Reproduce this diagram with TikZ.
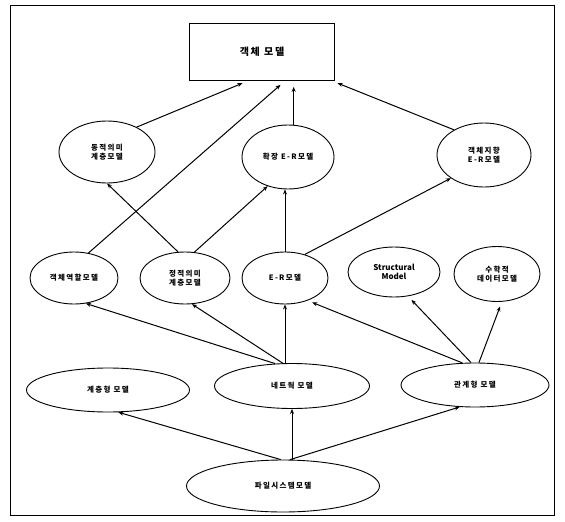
\documentclass[tikz,border=0pt]{standalone}
\usepackage{fontspec}
\setmainfont{Noto Sans CJK KR}
\newfontfamily\krfont[LetterSpace=18]{Noto Sans CJK KR}
\usepackage{tikz}
\usetikzlibrary{arrows.meta, shapes.geometric, calc}

\begin{document}
\begin{tikzpicture}[x=1pt, y=-1pt, font=\krfont\bfseries\fontsize{7.5}{9}\selectfont,
            model/.style={draw, ellipse, inner sep=0pt, align=center, line width=0.9pt},
            link/.style={-{Stealth[length=5pt, width=4pt]}, line width=1pt}]
  \useasboundingbox (0,0) rectangle (565,522);
  \draw[line width=0.8pt] (10,5) rectangle (554,515);

  % top: object model
  \node[draw, line width=0.8pt, minimum width=145pt, minimum height=57pt,
        font=\krfont\bfseries\fontsize{10}{12}\selectfont] (obj) at (262,52) {객체 모델};

  % upper ellipses
  \node[model, minimum width=96pt, minimum height=62pt] (dyn) at (107,152)
    {동적의미\\계층모델};
  \node[model, minimum width=92pt, minimum height=64pt] (ext) at (288,157)
    {확장 E-R모델};
  \node[model, minimum width=94pt, minimum height=64pt] (ooer) at (484,155)
    {객체지향\\E-R모델};

  % middle row
  \node[model, minimum width=88pt, minimum height=52pt] (orm) at (74,278)
    {객체역할모델};
  \node[model, minimum width=90pt, minimum height=52pt] (sta) at (185,278)
    {정적의미\\계층모델};
  \node[model, minimum width=86pt, minimum height=52pt] (er) at (285,278)
    {E-R모델};
  \node[model, minimum width=92pt, minimum height=50pt,
        font=\bfseries\fontsize{8}{9.5}\selectfont] (str) at (394,272)
    {Structural\\Model};
  \node[model, minimum width=86pt, minimum height=55pt] (math) at (497,274)
    {수학적\\데이터모델};

  % lower row
  \node[model, minimum width=163pt, minimum height=44pt] (hier) at (108,390)
    {계층형 모델};
  \node[model, minimum width=155pt, minimum height=45pt] (net) at (292,386)
    {네트웍 모델};
  \node[model, minimum width=148pt, minimum height=44pt] (rel) at (475,385)
    {관계형 모델};

  % bottom
  \node[model, minimum width=193pt, minimum height=52pt] (file) at (283,486)
    {파일시스템모델};

  % connectors into the object model
  \draw[link, shorten >=6pt] (dyn.40) -- ([xshift=-14pt]obj.south);
  \draw[link, shorten >=6pt] (orm.60) -- ([xshift=23pt]obj.south);
  \draw[link, shorten >=6pt] (ext.80) -- (ext.80 |- obj.south);
  \draw[link, shorten >=6pt] (ooer.140) -- ([xshift=70pt]obj.south);

  % middle row upward
  \draw[link] (sta.105) -- (dyn.south);
  \draw[link] (sta.70) -- (ext.235);
  \draw[link] (er.north) -- (er.north |- ext.south);
  \draw[link] (er.50) -- (ooer.215);

  % lower row upward
  \draw[link] (net.127) -- (orm.295);
  \draw[link] (net.112) -- (sta.285);
  \draw[link] (er.south |- net.north) -- (er.south);
  \draw[link, shorten >=5pt] (rel.120) -- (er.315);
  \draw[link, shorten >=5pt] (rel.100) -- (str.300);
  \draw[link, shorten >=5pt] (rel.80) -- (math.280);

  % bottom upward
  \draw[link] (file.95) -- (hier.295);
  \draw[link] (net.south |- file.north) -- (net.south);
  \draw[link] (file.75) -- (rel.235);
\end{tikzpicture}
\end{document}
